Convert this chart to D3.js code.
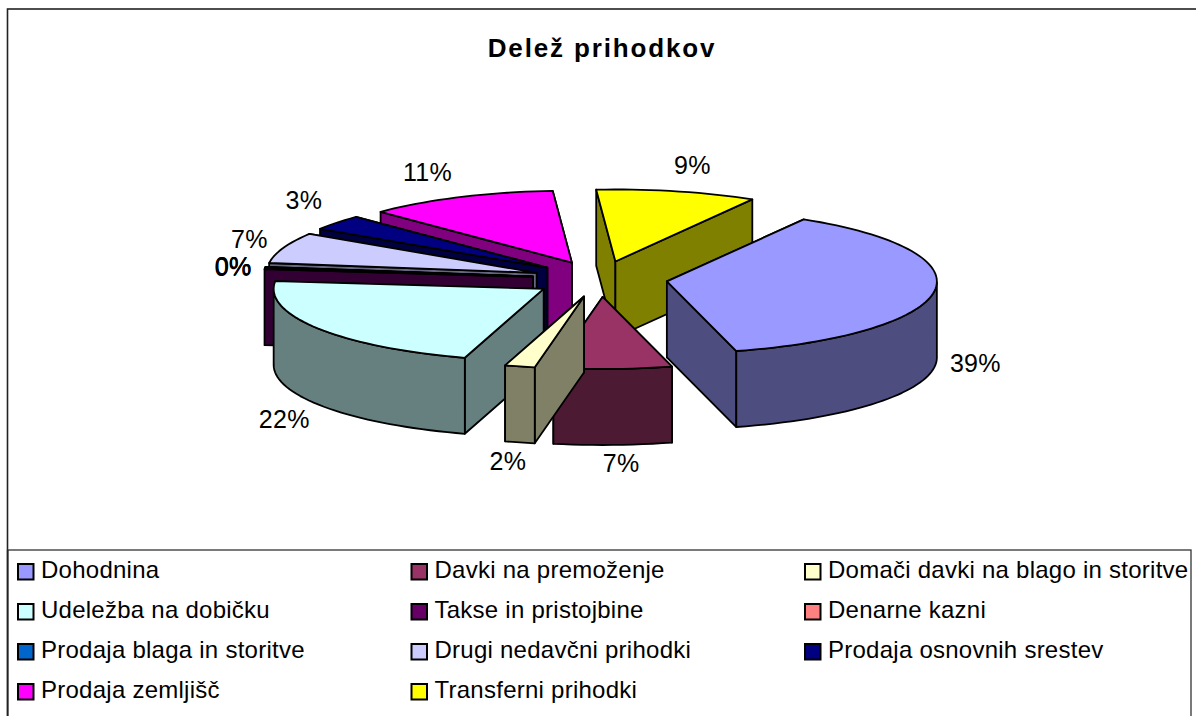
<!DOCTYPE html>
<html><head><meta charset="utf-8">
<script src="https://d3js.org/d3.v7.min.js"></script>
<style>html,body{margin:0;padding:0;background:#fff}svg{display:block}text{font-family:"Liberation Sans",Arial,sans-serif;fill:#000}</style>
</head><body><svg id="c" width="1196" height="716"></svg>
<script>
const title = "Delež prihodkov";
const categories = ["Dohodnina","Davki na premoženje","Domači davki na blago in storitve","Udeležba na dobičku","Takse in pristojbine","Denarne kazni","Prodaja blaga in storitve","Drugi nedavčni prihodki","Prodaja osnovnih srestev","Prodaja zemljišč","Transferni prihodki"];
const values = [38.5,6.5,1.8,22,0.3,0.05,0.1,6.9,3.4,11.4,9.05];
const pctLabels = ["39%","7%","2%","22%","0%","0%","0%","7%","3%","11%","9%"];
const colors = ["#9999FF","#993366","#FFFFCC","#CCFFFF","#660066","#FF8080","#0066CC","#CCCCFF","#000080","#FF00FF","#FFFF00"];
const drawOrder = [10,9,8,7,6,5,4,3,0,1,2];
const labelNudge = [[41,-3],[14,19],[-12,20],[-34,15],[-32,0],[-32,0],[-32,0],[-34,-8],[-33,-22],[-32,-24],[21,-25]];

const W=1196,H=716, cx=600, cy=279, rx=270, ry=72, depth=76, explode=0.25;
const rad=d=>d*Math.PI/180;
const svg=d3.select("#c");
svg.append("rect").attr("x",7.5).attr("y",9).attr("width",1400).attr("height",800).attr("fill","#fff").attr("stroke","#222").attr("stroke-width",1.6);
svg.append("text").attr("x",602).attr("y",57).attr("text-anchor","middle").attr("font-weight","bold").attr("font-size",26).attr("letter-spacing",1.85).text(title);

// slight view foreshortening of the front-right half, as in the 3-D view of the original
const warp=t=>{
  const deg=((t*180/Math.PI)%360+360)%360;
  return (deg>8&&deg<188)?t-rad(3)*Math.sin(2*(t-rad(98))):t;
};
const pie=d3.pie().sort(null).startAngle(rad(28.5)).endAngle(rad(388.5));
const arcs=pie(values);
const proj=(t,r)=>[r*rx*Math.sin(t),-r*ry*Math.cos(t)];
const line=d3.line();
const midOf=d=>(warp(d.startAngle)+warp(d.endAngle))/2;
const gPie=svg.append("g");
drawOrder.forEach(i=>{
  const d=arcs[i], mid=midOf(d);
  const off=proj(mid,explode), ax=cx+off[0], ay=cy+off[1];
  const pt=(t)=>{const p=proj(warp(t),1);return [ax+p[0],ay+p[1]];};
  const dark=d3.interpolateRgb(colors[i],"#000")(0.5);
  const down=p=>[p[0],p[1]+depth];
  const samples=(a,b)=>{const n=Math.max(1,Math.ceil((b-a)/rad(2)));return d3.range(n+1).map(k=>pt(a+(b-a)*k/n));};
  const g=gPie.append("g");
  const style=s=>s.attr("stroke","#000").attr("stroke-width",1.8).attr("stroke-linejoin","round");
  const apex=[ax,ay];
  const walls=[d.startAngle,d.endAngle].map(t=>{const p=pt(t);return {poly:[apex,p,down(p),down(apex)],y:p[1]};});
  walls.sort((a,b)=>a.y-b.y).forEach(w=>style(g.append("path").attr("d",line(w.poly)+"Z").attr("fill",dark)));
  const a=Math.max(d.startAngle,rad(90)), b=Math.min(d.endAngle,rad(270));
  if(b>a){const top=samples(a,b);style(g.append("path").attr("d",line(top.concat(top.slice().reverse().map(down)))+"Z").attr("fill",dark));}
  style(g.append("path").attr("d",line([apex].concat(samples(d.startAngle,d.endAngle)))+"Z").attr("fill",colors[i]));
});
arcs.forEach((d,i)=>{
  const mid=(d.startAngle+d.endAngle)/2, p=proj(mid,1+explode);
  const front=Math.cos(mid)<0?depth:0;
  svg.append("text").attr("x",cx+p[0]+labelNudge[i][0]).attr("y",cy+p[1]+front+labelNudge[i][1]+8)
    .attr("text-anchor","middle").attr("font-size",25).attr("letter-spacing",0.3).text(pctLabels[i]);
});
svg.append("rect").attr("x",7.5).attr("y",550).attr("width",1183.5).attr("height",300).attr("fill","#fff").attr("stroke","#333").attr("stroke-width",1.3);
svg.append("rect").attr("x",7).attr("y",550).attr("width",1.6).attr("height",170).attr("fill","#222");
const colX=d3.scalePoint().domain([0,1,2]).range([18,805]);
const rowY=d3.scalePoint().domain([0,1,2,3]).range([564,684]);
const gL=svg.append("g");
categories.forEach((c,i)=>{
  const x=colX(i%3), y=rowY(Math.floor(i/3));
  gL.append("rect").attr("x",x).attr("y",y).attr("width",15.5).attr("height",15.5).attr("fill",colors[i]).attr("stroke","#000").attr("stroke-width",2);
  gL.append("text").attr("x",x+23).attr("y",y+14).attr("font-size",24).attr("letter-spacing",0.25).text(c);
});
</script></body></html>
